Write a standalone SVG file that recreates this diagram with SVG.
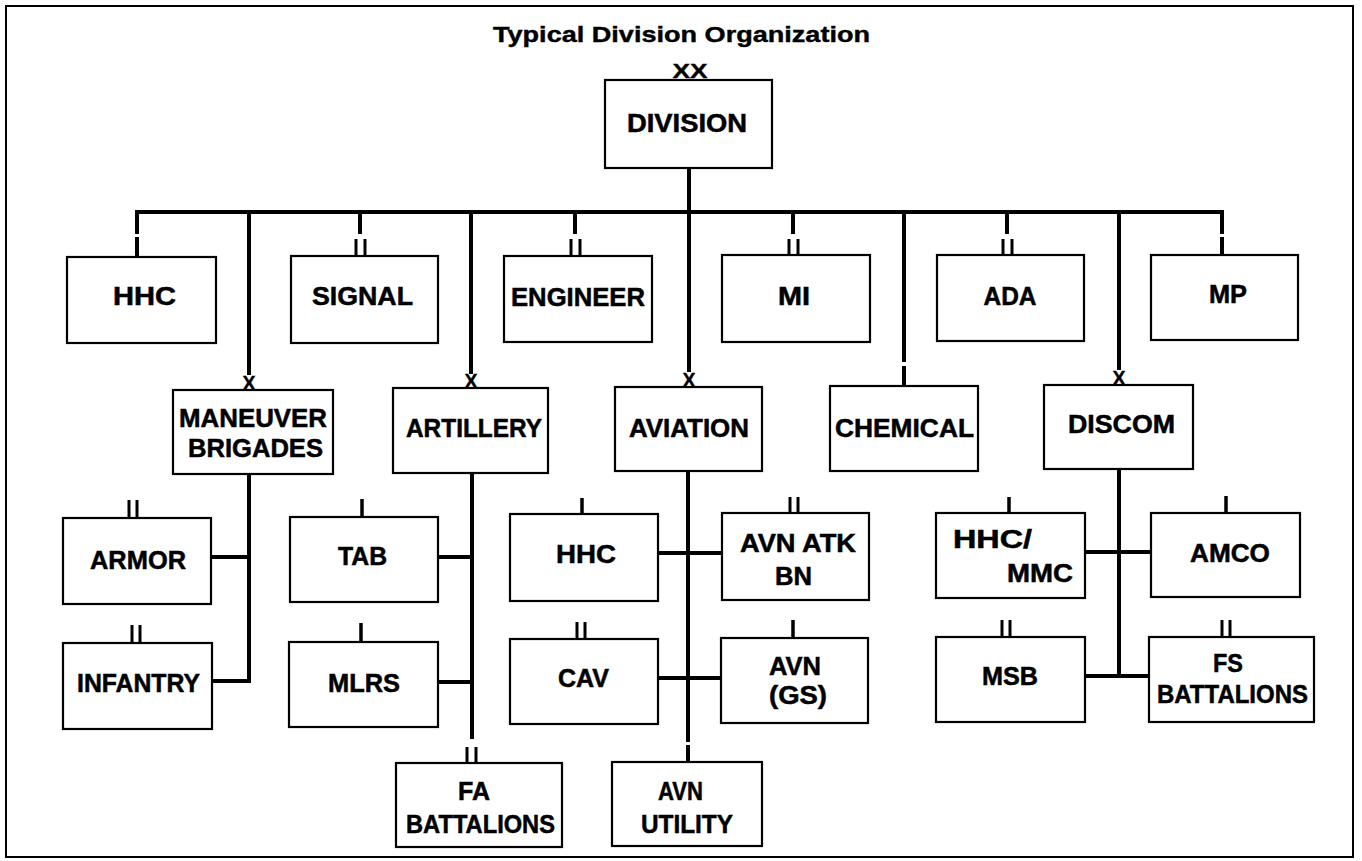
<svg xmlns="http://www.w3.org/2000/svg" width="1362" height="861" viewBox="0 0 1362 861">
<style>
.bg{fill:#fff}
.frame{fill:none;stroke:#000;stroke-width:2}
.box{fill:#fff;stroke:#000;stroke-width:2.2}
.ln{stroke:#000;stroke-width:4;fill:none;stroke-linecap:square}
.mk{stroke:#000;stroke-width:3.5;fill:none}
.mk2{stroke:#000;stroke-width:3;fill:none}
.t{font-family:"Liberation Sans",Arial,Helvetica,sans-serif;font-weight:bold;font-size:25px;fill:#000;stroke:#000;stroke-width:0.5;text-anchor:middle}
.ttl{font-family:"Liberation Sans",Arial,Helvetica,sans-serif;font-weight:bold;font-size:22px;fill:#000;stroke:#000;stroke-width:0.4;text-anchor:middle}
.x{font-family:"Liberation Sans",Arial,Helvetica,sans-serif;font-weight:bold;font-size:21px;fill:#000;stroke:#000;stroke-width:0.4;text-anchor:middle}
</style>
<rect class="bg" x="0" y="0" width="1362" height="861"/>
<rect class="frame" x="6" y="6" width="1347" height="851"/>
<text class="ttl" x="681.5" y="42" textLength="377" lengthAdjust="spacingAndGlyphs">Typical Division Organization</text>

<g id="connectors">
  <line class="ln" x1="689" y1="168" x2="689" y2="212"/>
  <polyline class="ln" points="137,232 137,212 1222,212 1222,232"/>
  <line class="ln" x1="137" y1="239" x2="137" y2="257"/>
  <line class="ln" x1="360" y1="212" x2="360" y2="232"/>
  <line class="mk2" x1="356" y1="239" x2="356" y2="256"/>
  <line class="mk2" x1="365" y1="239" x2="365" y2="256"/>
  <line class="ln" x1="575" y1="212" x2="575" y2="232"/>
  <line class="mk2" x1="571" y1="239" x2="571" y2="256"/>
  <line class="mk2" x1="580" y1="239" x2="580" y2="256"/>
  <line class="ln" x1="793" y1="212" x2="793" y2="232"/>
  <line class="mk2" x1="789" y1="239" x2="789" y2="255"/>
  <line class="mk2" x1="798" y1="239" x2="798" y2="255"/>
  <line class="ln" x1="1007" y1="212" x2="1007" y2="232"/>
  <line class="mk2" x1="1003" y1="239" x2="1003" y2="255"/>
  <line class="mk2" x1="1012" y1="239" x2="1012" y2="255"/>
  <line class="ln" x1="1222" y1="239" x2="1222" y2="255"/>
  <line class="ln" x1="249" y1="212" x2="249" y2="373"/>
  <line class="ln" x1="471" y1="212" x2="471" y2="372"/>
  <line class="ln" x1="689" y1="212" x2="689" y2="370"/>
  <line class="ln" x1="904" y1="212" x2="904" y2="360"/>
  <line class="ln" x1="904" y1="368" x2="904" y2="386"/>
  <line class="ln" x1="1119" y1="212" x2="1119" y2="368"/>
  <text class="x" x="249" y="390" textLength="13" lengthAdjust="spacingAndGlyphs">X</text>
  <text class="x" x="471" y="388" textLength="13" lengthAdjust="spacingAndGlyphs">X</text>
  <text class="x" x="689" y="387" textLength="13" lengthAdjust="spacingAndGlyphs">X</text>
  <text class="x" x="1119" y="385" textLength="13" lengthAdjust="spacingAndGlyphs">X</text>
  <polyline class="ln" points="249,474 249,681 212,681"/>
  <line class="ln" x1="211" y1="557" x2="249" y2="557"/>
  <line class="ln" x1="472" y1="473" x2="472" y2="737"/>
  <line class="ln" x1="438" y1="557" x2="472" y2="557"/>
  <line class="ln" x1="438" y1="682" x2="472" y2="682"/>
  <line class="mk2" x1="467" y1="747" x2="467" y2="763"/>
  <line class="mk2" x1="476" y1="747" x2="476" y2="763"/>
  <line class="ln" x1="688" y1="471" x2="688" y2="740"/>
  <line class="ln" x1="688" y1="747" x2="688" y2="762"/>
  <line class="ln" x1="658" y1="553" x2="722" y2="553"/>
  <line class="ln" x1="658" y1="678" x2="721" y2="678"/>
  <line class="ln" x1="1119" y1="469" x2="1119" y2="676"/>
  <line class="ln" x1="1085" y1="552" x2="1151" y2="552"/>
  <line class="ln" x1="1085" y1="676" x2="1149" y2="676"/>
  <line class="mk2" x1="129" y1="500" x2="129" y2="518"/>
  <line class="mk2" x1="137" y1="500" x2="137" y2="518"/>
  <line class="mk2" x1="132" y1="625" x2="132" y2="643"/>
  <line class="mk2" x1="140" y1="625" x2="140" y2="643"/>
  <line class="mk" x1="362" y1="499" x2="362" y2="517"/>
  <line class="mk" x1="361" y1="623" x2="361" y2="642"/>
  <line class="mk" x1="582" y1="498" x2="582" y2="514"/>
  <line class="mk2" x1="790" y1="497" x2="790" y2="513"/>
  <line class="mk2" x1="798" y1="497" x2="798" y2="513"/>
  <line class="mk2" x1="577" y1="622" x2="577" y2="639"/>
  <line class="mk2" x1="585" y1="622" x2="585" y2="639"/>
  <line class="mk" x1="793" y1="620" x2="793" y2="638"/>
  <line class="mk" x1="1009" y1="497" x2="1009" y2="513"/>
  <line class="mk" x1="1226" y1="496" x2="1226" y2="513"/>
  <line class="mk2" x1="1002" y1="620" x2="1002" y2="637"/>
  <line class="mk2" x1="1010" y1="620" x2="1010" y2="637"/>
  <line class="mk2" x1="1222" y1="620" x2="1222" y2="637"/>
  <line class="mk2" x1="1230" y1="620" x2="1230" y2="637"/>
</g>

<g id="division">
  <rect class="box" x="605" y="80" width="167" height="88"/>
  <text class="x" x="690" y="78" textLength="35" lengthAdjust="spacingAndGlyphs">XX</text>
  <text class="t" x="687" y="132" font-size="27" textLength="120" lengthAdjust="spacingAndGlyphs">DIVISION</text>
</g>
<g id="hhc-div">
  <rect class="box" x="67" y="257" width="149" height="86"/>
  <text class="t" x="144.5" y="305" textLength="63" lengthAdjust="spacingAndGlyphs">HHC</text>
</g>
<g id="signal">
  <rect class="box" x="291" y="256" width="147" height="87"/>
  <text class="t" x="362.5" y="305" textLength="101" lengthAdjust="spacingAndGlyphs">SIGNAL</text>
</g>
<g id="engineer">
  <rect class="box" x="504" y="256" width="148" height="86"/>
  <text class="t" x="578" y="306" textLength="134" lengthAdjust="spacingAndGlyphs">ENGINEER</text>
</g>
<g id="mi">
  <rect class="box" x="722" y="255" width="148" height="87"/>
  <text class="t" x="794" y="305" textLength="32" lengthAdjust="spacingAndGlyphs">MI</text>
</g>
<g id="ada">
  <rect class="box" x="937" y="255" width="147" height="86"/>
  <text class="t" x="1010" y="305" textLength="53" lengthAdjust="spacingAndGlyphs">ADA</text>
</g>
<g id="mp">
  <rect class="box" x="1151" y="255" width="147" height="85"/>
  <text class="t" x="1228" y="303" textLength="38" lengthAdjust="spacingAndGlyphs">MP</text>
</g>
<g id="maneuver-brigades">
  <rect class="box" x="173" y="390" width="160" height="84"/>
  <text class="t" x="253" y="427" textLength="148" lengthAdjust="spacingAndGlyphs">MANEUVER</text>
  <text class="t" x="255.5" y="457" textLength="135" lengthAdjust="spacingAndGlyphs">BRIGADES</text>
</g>
<g id="artillery">
  <rect class="box" x="393" y="388" width="155" height="85"/>
  <text class="t" x="474" y="437" textLength="136" lengthAdjust="spacingAndGlyphs">ARTILLERY</text>
</g>
<g id="aviation">
  <rect class="box" x="615" y="387" width="147" height="84"/>
  <text class="t" x="689" y="437" textLength="120" lengthAdjust="spacingAndGlyphs">AVIATION</text>
</g>
<g id="chemical">
  <rect class="box" x="830" y="386" width="148" height="85"/>
  <text class="t" x="904.5" y="437" textLength="139" lengthAdjust="spacingAndGlyphs">CHEMICAL</text>
</g>
<g id="discom">
  <rect class="box" x="1044" y="385" width="149" height="84"/>
  <text class="t" x="1121.5" y="433" textLength="107" lengthAdjust="spacingAndGlyphs">DISCOM</text>
</g>
<g id="armor">
  <rect class="box" x="63" y="518" width="148" height="86"/>
  <text class="t" x="138" y="569" textLength="96" lengthAdjust="spacingAndGlyphs">ARMOR</text>
</g>
<g id="infantry">
  <rect class="box" x="63" y="643" width="149" height="86"/>
  <text class="t" x="138.5" y="692" textLength="123" lengthAdjust="spacingAndGlyphs">INFANTRY</text>
</g>
<g id="tab">
  <rect class="box" x="290" y="517" width="148" height="85"/>
  <text class="t" x="362.5" y="565" textLength="49" lengthAdjust="spacingAndGlyphs">TAB</text>
</g>
<g id="mlrs">
  <rect class="box" x="289" y="642" width="149" height="85"/>
  <text class="t" x="364" y="692" textLength="72" lengthAdjust="spacingAndGlyphs">MLRS</text>
</g>
<g id="fa-battalions">
  <rect class="box" x="396" y="763" width="166" height="84"/>
  <text class="t" x="474" y="800" textLength="32" lengthAdjust="spacingAndGlyphs">FA</text>
  <text class="t" x="480.5" y="833" textLength="149" lengthAdjust="spacingAndGlyphs">BATTALIONS</text>
</g>
<g id="hhc-avn">
  <rect class="box" x="510" y="514" width="148" height="87"/>
  <text class="t" x="586" y="563" textLength="60" lengthAdjust="spacingAndGlyphs">HHC</text>
</g>
<g id="avn-atk-bn">
  <rect class="box" x="722" y="513" width="147" height="87"/>
  <text class="t" x="798" y="552" textLength="116" lengthAdjust="spacingAndGlyphs">AVN ATK</text>
  <text class="t" x="793.5" y="585" textLength="37" lengthAdjust="spacingAndGlyphs">BN</text>
</g>
<g id="cav">
  <rect class="box" x="510" y="639" width="148" height="85"/>
  <text class="t" x="583.5" y="687" textLength="51" lengthAdjust="spacingAndGlyphs">CAV</text>
</g>
<g id="avn-gs">
  <rect class="box" x="721" y="638" width="147" height="85"/>
  <text class="t" x="795" y="675" textLength="52" lengthAdjust="spacingAndGlyphs">AVN</text>
  <text class="t" x="798" y="704" textLength="58" lengthAdjust="spacingAndGlyphs">(GS)</text>
</g>
<g id="avn-utility">
  <rect class="box" x="612" y="762" width="150" height="84"/>
  <text class="t" x="680.5" y="800" textLength="45" lengthAdjust="spacingAndGlyphs">AVN</text>
  <text class="t" x="687" y="833" textLength="92" lengthAdjust="spacingAndGlyphs">UTILITY</text>
</g>
<g id="hhc-mmc">
  <rect class="box" x="936" y="513" width="149" height="85"/>
  <text class="t" x="953" y="548" style="text-anchor:start" textLength="79" lengthAdjust="spacingAndGlyphs">HHC/</text>
  <text class="t" x="1007" y="582" style="text-anchor:start" textLength="66" lengthAdjust="spacingAndGlyphs">MMC</text>
</g>
<g id="amco">
  <rect class="box" x="1151" y="513" width="149" height="84"/>
  <text class="t" x="1230" y="562" textLength="80" lengthAdjust="spacingAndGlyphs">AMCO</text>
</g>
<g id="msb">
  <rect class="box" x="936" y="637" width="149" height="85"/>
  <text class="t" x="1010" y="685" textLength="56" lengthAdjust="spacingAndGlyphs">MSB</text>
</g>
<g id="fs-battalions">
  <rect class="box" x="1149" y="637" width="165" height="85"/>
  <text class="t" x="1228" y="672" textLength="30" lengthAdjust="spacingAndGlyphs">FS</text>
  <text class="t" x="1232.5" y="703" textLength="151" lengthAdjust="spacingAndGlyphs">BATTALIONS</text>
</g>
</svg>
